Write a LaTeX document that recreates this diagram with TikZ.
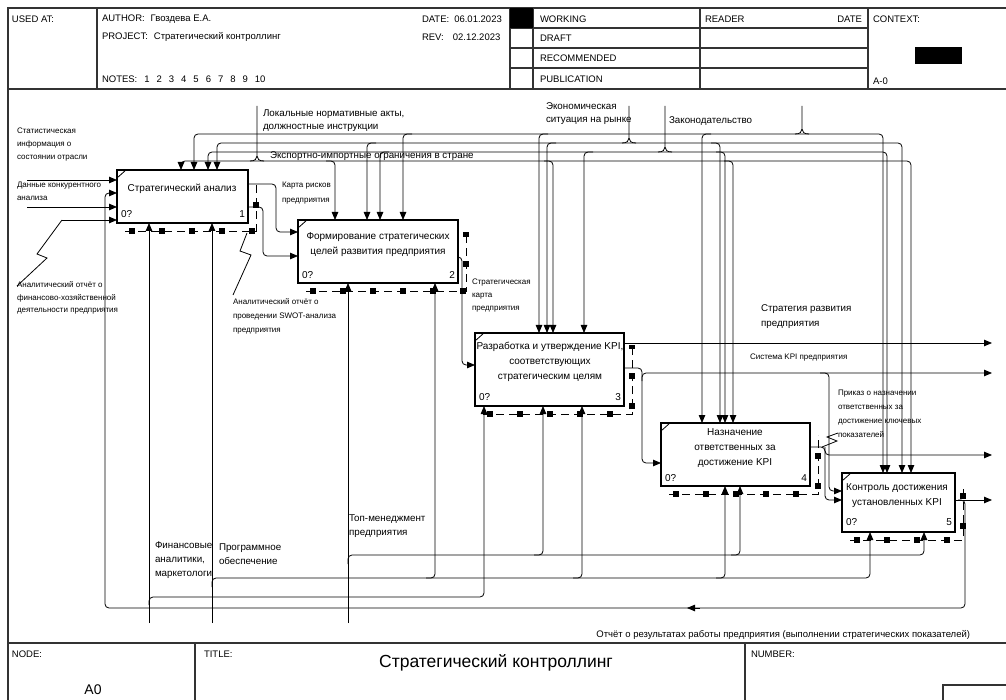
\documentclass[tikz,border=0pt]{standalone}
\usepackage{fontspec}
\setmainfont{Liberation Sans}
\usetikzlibrary{arrows.meta,calc}
\begin{document}
\begin{tikzpicture}[x=1pt,y=-1pt,
  every node/.style={inner sep=0pt,outer sep=0pt},
  fr/.style={line width=1.1pt,draw=black!80},
  bx/.style={draw,line width=1.8pt,fill=white},
  tk/.style={line width=0.8pt},
  arr/.style={line width=0.8pt,-{Triangle[length=8pt,width=6.5pt]},rounded corners=4pt},
  arrB/.style={line width=0.8pt,{Triangle[length=8pt,width=6.5pt]}-{Triangle[length=8pt,width=6.5pt]},rounded corners=4pt},
  ln/.style={line width=0.8pt},
  shA/.style={line width=6pt,dash pattern=on 6pt off 24pt},
  shB/.style={line width=0.7pt,dash pattern=on 8pt off 5pt},
  hd/.style={font=\fontsize{9.5}{11}\selectfont,anchor=west},
  bt/.style={font=\fontsize{10}{15}\selectfont,align=center},
  bn/.style={font=\fontsize{10}{12}\selectfont},
  sm/.style={font=\fontsize{8}{13}\selectfont,align=left,anchor=north west},
  md/.style={font=\fontsize{9.8}{13}\selectfont,align=left,anchor=north west}
]
\useasboundingbox (0,0) rectangle (1006,700);
% ---------- frame and header ----------
\draw[fr] (8,700) -- (8,8) -- (1006,8);
\draw[fr] (8,89) -- (1006,89);
\foreach \x in {97,510,533,700,868} \draw[fr] (\x,8) -- (\x,89);
\foreach \y in {28,48,68} \draw[fr] (510,\y) -- (868,\y);
\fill (510,8) rectangle (533,28);
\fill (915,47) rectangle (962,64);
\node[hd] (h1) at (12,19) {USED AT:};
\node[hd] (h2) at (102,19) {AUTHOR:\hspace{6pt}Гвоздева Е.А.};
\node[hd] (h3) at (102,37) {PROJECT:\hspace{6pt}Стратегический контроллинг};
\node[hd] (h4) at (102,79) {NOTES:\hspace{7pt}1\hspace{7pt}2\hspace{7pt}3\hspace{7pt}4\hspace{7pt}5\hspace{7pt}6\hspace{7pt}7\hspace{7pt}8\hspace{7pt}9\hspace{7pt}10};
\node[hd] (h5) at (422,19) {DATE:\hspace{5pt}06.01.2023};
\node[hd] (h6) at (422,37) {REV:\hspace{9pt}02.12.2023};
\node[hd] (h7) at (540,19) {WORKING};
\node[hd] (h8) at (540,38) {DRAFT};
\node[hd] (h9) at (540,58) {RECOMMENDED};
\node[hd] (h10) at (540,79) {PUBLICATION};
\node[hd] (h11) at (705,19) {READER};
\node[hd,anchor=east] (h12) at (862,19) {DATE};
\node[hd] (h13) at (873,19) {CONTEXT:};
\node[hd] (h14) at (873,81) {A-0};
% ---------- footer ----------
\draw[fr] (8,643) -- (1006,643);
\draw[fr] (195,643) -- (195,700);
\draw[fr] (745,643) -- (745,700);
\draw[fr] (943,700) -- (943,685) -- (1006,685);
\node[hd] (f1) at (12,654) {NODE:};
\node[hd] (f2) at (204,654) {TITLE:};
\node[hd] (f3) at (751,654) {NUMBER:};
\node[font=\fontsize{14}{16}\selectfont] (f4) at (93,690) {A0};
\node[font=\fontsize{17.5}{20}\selectfont] (f5) at (496,663) {Стратегический контроллинг};
% ---------- boxes ----------
\node[bx,minimum width=131,minimum height=53] (b1) at (182.5,196.5) {};
\node[bx,minimum width=160,minimum height=63] (b2) at (378,251.5) {};
\node[bx,minimum width=149,minimum height=73] (b3) at (549.5,369.5) {};
\node[bx,minimum width=149,minimum height=63] (b4) at (735.5,454.5) {};
\node[bx,minimum width=113,minimum height=59] (b5) at (898.5,502.5) {};
\foreach \b in {b1,b2,b3,b4,b5}{
  \draw[shA] ($(\b.south west)+(12,8)$) -- ($(\b.south east)+(8,8)$) -- ($(\b.north east)+(8,12)$);
  \draw[shB] ($(\b.south west)+(8,8)$) -- ($(\b.south east)+(8,8)$) -- ($(\b.north east)+(8,12)$);
  \draw[tk] ($(\b.north west)+(0,8)$) -- ($(\b.north west)+(9,0)$);
}
\node[bt] (t1) at (182,189) {Стратегический анализ};
\node[bt] (t2) at (378,245) {Формирование стратегических\\целей развития предприятия};
\node[bt] (t3) at (550,362) {Разработка и утверждение KPI,\\соответствующих\\стратегическим целям};
\node[bt] (t4) at (735,448) {Назначение\\ответственных за\\достижение KPI};
\node[bt] (t5) at (897,496) {Контроль достижения\\установленных KPI};
\node[bn,anchor=west] (n1a) at (121,214) {0?};
\node[bn,anchor=east] (n1b) at (245,214) {1};
\node[bn,anchor=west] (n2a) at (302,275) {0?};
\node[bn,anchor=east] (n2b) at (455,275) {2};
\node[bn,anchor=west] (n3a) at (479,397) {0?};
\node[bn,anchor=east] (n3b) at (621,397) {3};
\node[bn,anchor=west] (n4a) at (665,478) {0?};
\node[bn,anchor=east] (n4b) at (807,478) {4};
\node[bn,anchor=west] (n5a) at (846,522) {0?};
\node[bn,anchor=east] (n5b) at (952,522) {5};
% ---------- controls (top) ----------
\coordinate (sA) at (257,106);
\coordinate (sB) at (629,106);
\coordinate (sC) at (665,106);
\coordinate (sD) at (802,106);
\draw[ln] (sA) -- (257,156) (250,161) .. controls (255,161) and (257,159) .. (257,156) .. controls (257,159) and (259,161) .. (264,161);
\draw[ln] (sB) -- (629,138) (622,143) .. controls (627,143) and (629,141) .. (629,138) .. controls (629,141) and (631,143) .. (636,143);
\draw[ln] (sC) -- (665,147) (658,152) .. controls (663,152) and (665,150) .. (665,147) .. controls (665,150) and (667,152) .. (672,152);
\draw[ln] (sD) -- (802,129) (795,134) .. controls (800,134) and (802,132) .. (802,129) .. controls (802,132) and (804,134) .. (809,134);
% line y=161 (from sA)
\draw[arrB] (b1.north -| 181,0) |- (911,161) -- (b5.north -| 911,0);
\foreach \x/\b in {335/b2,553/b3,733/b4} \draw[arr] (\x-9,161) -| (\b.north -| \x,0);
% line y=134 (from sD)
\draw[arrB] (b1.north -| 194,0) |- (883,134) -- (b5.north -| 883,0);
\foreach \x/\b in {403/b2,539/b3,702/b4} \draw[arr] (\x+9,134) -| (\b.north -| \x,0);
% line y=143 (from sB)
\draw[arrB] (b1.north -| 217,0) |- (902,143) -- (b5.north -| 902,0);
\foreach \x/\b in {367/b2,547/b3} \draw[arr] (\x+9,143) -| (\b.north -| \x,0);
\draw[arr] (711,143) -| (b4.north -| 720,0);
% line y=152 (from sC)
\draw[arrB] (b1.north -| 208,0) |- (887,152) -- (b5.north -| 887,0);
\foreach \x/\b in {380/b2,584/b3} \draw[arr] (\x+9,152) -| (\b.north -| \x,0);
\draw[arr] (716,152) -| (b4.north -| 725,0);
% ---------- mechanisms (bottom) ----------
\coordinate (mA) at (149,623);
\coordinate (mB) at (212,623);
\coordinate (mC) at (348,623);
\draw[arr] (mA) -- (b1.south -| mA);
\draw[arr] (149,605) |- (484,597) -- (b3.south -| 484,0);
\draw[arr] (mB) -- (b1.south -| mB);
\draw[arr] (212,587) |- (870,578) -- (b5.south -| 870,0);
\foreach \x/\b in {435/b2,582/b3,725/b4} \draw[arr] (\x-9,578) -| (\b.south -| \x,0);
\draw[arr] (mC) -- (b2.south -| mC);
\draw[arr] (348,564) |- (924,555) -- (b5.south -| 924,0);
\foreach \x/\b in {543/b3,740/b4} \draw[arr] (\x-9,555) -| (\b.south -| \x,0);
% ---------- inputs ----------
\coordinate (i1) at (27,180);
\coordinate (i2) at (27,207);
\coordinate (i3) at (62,220);
\draw[arr] (i1) -- (b1.west |- i1);
\draw[arr] (i2) -- (b1.west |- i2);
\draw[arr] (i3) -- (b1.west |- i3);
% ---------- outputs between boxes ----------
\draw[arr] (b1.east |- 0,184) -| (276,232) -- (b2.west |- 0,232);
\draw[arr] (b1.east |- 0,207) -| (263,256) -- (b2.west |- 0,256);
\draw[arr] (b2.east |- 0,257) -| (462,365) -- (b3.west |- 0,365);
\coordinate (o1) at (992,343);
\coordinate (o2) at (992,373);
\coordinate (o3) at (992,455);
\coordinate (o4) at (992,500);
\draw[arr] (b3.east |- o1) -- (o1);
\draw[arr] (b3.east |- 0,368) -| (642,463) -- (b4.west |- 0,463);
\draw[arr] (642,381) |- (o2);
\draw[arr] (820,373) -| (829,491) -- (b5.west |- 0,491);
\draw[arr] (b4.east |- 0,447) -| (825,500) -- (b5.west |- 0,500);
\draw[arr] (825,447) |- (o3);
\draw[arr] (b5.east |- o4) -- (o4);
% feedback
\draw[arr] (958,500) -| (965,608) -| (105,193) -- (b1.west |- 0,193);
\draw[line width=0.8pt,-{Triangle[length=8pt,width=6.5pt]}] (700,608) -- (687,608);
% ---------- squiggles ----------
\draw[tk] (i3) -- (37,254) -- (47,258) -- (17,286);
\draw[tk] (247,233) -- (240,251) -- (251,255) -- (233,295);
\draw[tk] (838,433) -- (827,437) -- (837,441) -- (822,447);
% ---------- labels ----------
\node[sm] (l1) at (17,128) {Статистическая\\информация о\\состоянии отрасли};
\node[sm] (l2) at (17,182) {Данные конкурентного\\анализа};
\node[sm,font=\fontsize{8}{12.5}\selectfont] (l3) at (17,282) {Аналитический отчёт о\\финансово-хозяйственной\\деятельности предприятия};
\node[sm,font=\fontsize{8}{15}\selectfont] (l4) at (282,182) {Карта рисков\\предприятия};
\node[sm,font=\fontsize{8}{14}\selectfont] (l5) at (233,299) {Аналитический отчёт о\\проведении SWOT-анализа\\предприятия};
\node[md] (l6) at (263,110) {Локальные нормативные акты,\\должностные инструкции};
\node[md,anchor=west] (l7) at (270,156) {Экспортно-импортные ограничения в стране};
\node[md] (l8) at (546,103) {Экономическая\\ситуация на рынке};
\node[md,anchor=west] (l9) at (669,121) {Законодательство};
\node[sm] (l10) at (472,279) {Стратегическая\\карта\\предприятия};
\node[md,font=\fontsize{9.8}{15}\selectfont] (l11) at (761,305) {Стратегия развития\\предприятия};
\node[sm,anchor=west] (l12) at (750,358) {Система KPI предприятия};
\node[sm,font=\fontsize{8}{14}\selectfont] (l13) at (838,390) {Приказ о назначении\\ответственных за\\достижение ключевых\\показателей};
\node[md,font=\fontsize{9.8}{14}\selectfont] (l14) at (155,542) {Финансовые\\аналитики,\\маркетологи};
\node[md,font=\fontsize{9.8}{13.5}\selectfont] (l15) at (219,544) {Программное\\обеспечение};
\node[md,font=\fontsize{9.8}{14}\selectfont] (l16) at (349,515) {Топ-менеджмент\\предприятия};
\node[md,anchor=east,font=\fontsize{9.5}{12}\selectfont] (l17) at (970,635) {Отчёт о результатах работы предприятия (выполнении стратегических показателей)};
\end{tikzpicture}
\end{document}
